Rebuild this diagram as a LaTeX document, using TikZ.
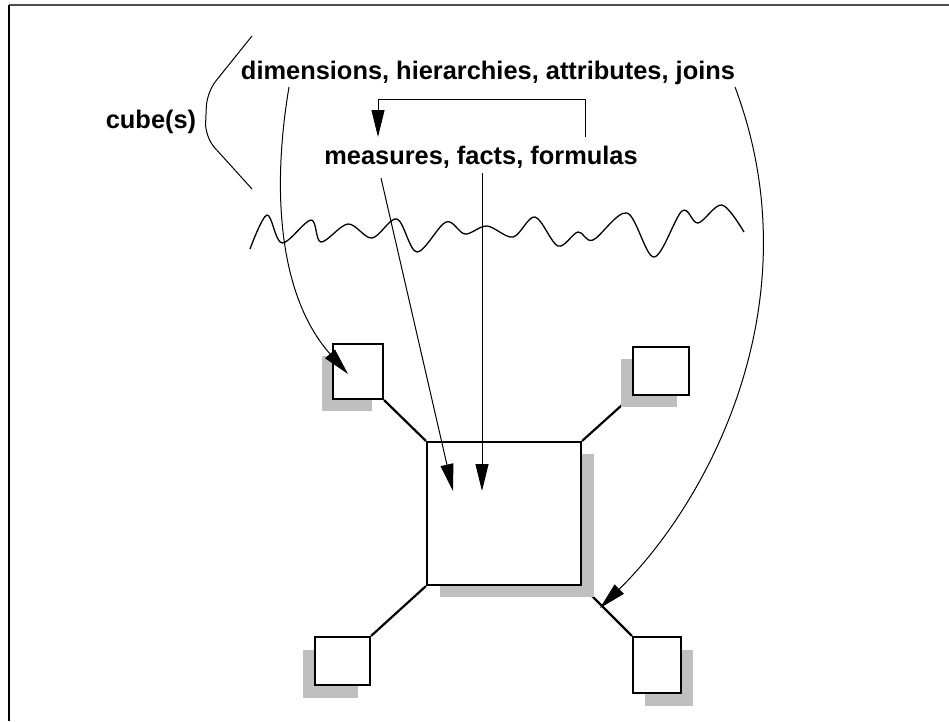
\documentclass[tikz,border=0pt]{standalone}
\usepackage{fontspec}
\setmainfont{Liberation Sans}
\usetikzlibrary{arrows.meta, shadows, backgrounds}

\begin{document}
\begin{tikzpicture}[
    x=1pt, y=-1pt,
    txt/.style={font=\fontsize{25.4}{30}\selectfont\bfseries, inner sep=0pt, anchor=base},
    dimbox/.style={rectangle, draw=black, line width=2.2pt, fill=white, inner sep=0pt},
    factbox/.style={dimbox, minimum width=154pt, minimum height=143pt},
    cast/.style 2 args={drop shadow={shadow xshift=#1pt, shadow yshift=#2pt, fill=black!25, opacity=1}},
    link/.style={line width=2.2pt},
    pointer/.style={line width=1pt, -{Triangle[length=27pt, width=13pt]}}
]
    \useasboundingbox (0,0) rectangle (949,721);

    % Frame
    \draw[line width=1.3pt, black!70] (9,5) -- (949,5);
    \draw[line width=1.3pt] (9,5) -- (9,721);

    % Texts
    \node[txt] (cube) at (151,128) {cube(s)};
    \node[txt] (dims) at (488,79) {dimensions, hierarchies, attributes, joins};
    \node[txt] (meas) at (481,164) {measures, facts, formulas};

    % Cube bracket and cut line
    \draw[line width=1pt, rounded corners=14pt] (252,36) -- (207,92) -- (205,137) -- (252,189);
    \draw[line width=1.3pt] plot[smooth, tension=0.55] coordinates {(250,249) (267,215) (282,243) (311,220) (321,242) (348,224) (372,238) (397,219) (417,252) (446,222) (465,234) (487,226) (513,237) (535,217) (558,246) (578,232) (593,240) (627,213) (654,257) (682,211) (698,223) (722,205) (744,232)};

    % Star schema
    \node[dimbox, minimum width=50pt, minimum height=55pt, cast={-11}{-12}] (dimA) at (358,371.5) {};
    \node[dimbox, minimum width=56pt, minimum height=48pt, cast={-12}{-12}] (dimB) at (661,371) {};
    \node[factbox, cast={13}{-12}] (fact) at (504,513.5) {};
    \node[dimbox, minimum width=55pt, minimum height=48pt, cast={-12}{-13}] (dimC) at (342.5,661) {};
    \node[dimbox, minimum width=48pt, minimum height=56pt, cast={12}{-13}] (dimD) at (657,665) {};

    \begin{scope}[on background layer]
        \draw[link] (dimA.south east) -- (fact.north west);
        \draw[link] (dimB.south west) -- (fact.north east);
        \draw[link] (fact.south west) -- (dimC.north east);
        \draw[link] (fact.south east) -- (dimD.north west);
    \end{scope}

    % Pointers
    \coordinate (dimsL) at (289,87);
    \coordinate (dimsR) at (735,87);
    \coordinate (measL) at (381,178);
    \coordinate (measM) at (482,173);
    \coordinate (loopR) at (585,137);
    \coordinate (loopL) at (378,137);
    \coordinate (tipA) at (348,374);
    \coordinate (tipD) at (600,608);
    \coordinate (tipL) at (453,491);
    \coordinate (tipM) at (482,491);

    \draw[pointer] (dimsL) .. controls (270,200) and (282,300) .. (tipA);
    \draw[pointer] (dimsR) .. controls (815,300) and (710,500) .. (tipD);
    \draw[pointer] (measL) -- (tipL);
    \draw[pointer] (measM) -- (tipM);
    \draw[pointer] (loopR) -- (585,99) -| (loopL);

\end{tikzpicture}
\end{document}
